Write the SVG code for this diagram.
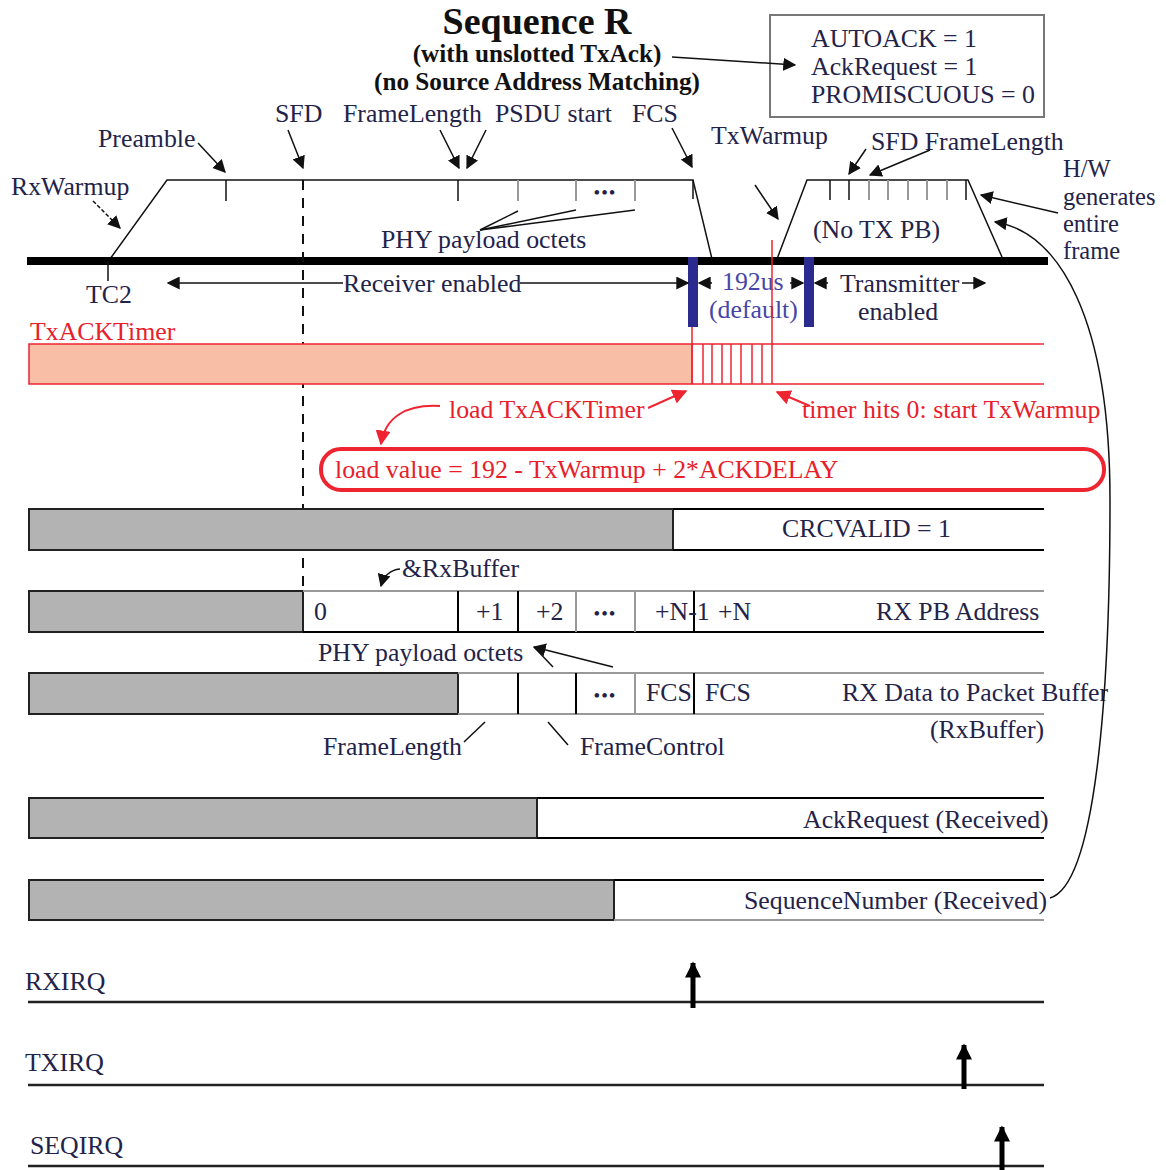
<svg xmlns="http://www.w3.org/2000/svg" width="1166" height="1170" viewBox="0 0 1166 1170">
<defs>
<style>
text{font-family:"Liberation Serif","Times New Roman",serif;font-size:25.8px;fill:#23234a}
.b{font-weight:bold;fill:#111;font-size:25.2px}
.t{font-size:38px}
.d{font-size:19px;letter-spacing:1px}
.hw{font-size:24.5px}
.r{fill:#e8202a}
.bl{fill:#4646a8}
.ln{stroke:#111;stroke-width:1.5;fill:none}
.gl{stroke:#999;stroke-width:2;fill:none}
.th{stroke:#000;stroke-width:2;fill:none}
.red{stroke:#ee2530;stroke-width:1.5;fill:none}
.gray{fill:#b3b3b3;stroke:#222;stroke-width:2}
</style>
<marker id="ah" viewBox="0 0 10 10" refX="9" refY="5" markerWidth="13" markerHeight="13" markerUnits="userSpaceOnUse" orient="auto"><path d="M0,0L10,5L0,10z" fill="#111"/></marker>
<marker id="rh" viewBox="0 0 10 10" refX="9" refY="5" markerWidth="15" markerHeight="15" markerUnits="userSpaceOnUse" orient="auto"><path d="M0,0L10,5L0,10z" fill="#ee2530"/></marker>
<marker id="big" viewBox="0 0 10 10" refX="9" refY="5" markerWidth="22" markerHeight="16" markerUnits="userSpaceOnUse" orient="auto"><path d="M0,0L10,5L0,10z" fill="#000"/></marker>
</defs>
<rect width="1166" height="1170" fill="#fff"/>

<g id="title">
<text x="537" y="34" class="b t" text-anchor="middle">Sequence R</text>
<text x="537" y="62" class="b" text-anchor="middle">(with unslotted TxAck)</text>
<text x="537" y="90" class="b" text-anchor="middle">(no Source Address Matching)</text>
</g>

<g id="config-box">
<rect x="770" y="15" width="274" height="102" fill="#fff" stroke="#777" stroke-width="2"/>
<text x="811" y="47">AUTOACK = 1</text>
<text x="811" y="75">AckRequest = 1</text>
<text x="811" y="103">PROMISCUOUS = 0</text>
</g>

<g id="rx-frame">
<polyline class="ln" points="110,259 167,180 693,180 712,259"/>
<line class="ln" x1="226" y1="180" x2="226" y2="201"/>
<line class="ln" x1="458" y1="180" x2="458" y2="201"/>
<line class="gl" x1="518" y1="180" x2="518" y2="201"/>
<line class="gl" x1="576" y1="180" x2="576" y2="201"/>
<line class="gl" x1="635" y1="180" x2="635" y2="201"/>
<line class="ln" x1="693" y1="180" x2="693" y2="199"/>
<text x="605" y="199" class="d" text-anchor="middle">•••</text>
<text x="381" y="248">PHY payload octets</text>
<text x="98" y="147">Preamble</text>
<text x="11" y="195">RxWarmup</text>
<text x="275" y="122">SFD</text>
<text x="343" y="122">FrameLength</text>
<text x="495" y="122">PSDU start</text>
<text x="632" y="122">FCS</text>
</g>

<g id="tx-frame">
<polyline class="ln" points="777,259 807,180 968,180 1002,257"/>
<line class="ln" x1="830" y1="180" x2="830" y2="200"/>
<line class="ln" x1="849" y1="180" x2="849" y2="200"/>
<line class="gl" x1="869" y1="180" x2="869" y2="200"/>
<line class="gl" x1="888" y1="180" x2="888" y2="200"/>
<line class="gl" x1="908" y1="180" x2="908" y2="200"/>
<line class="gl" x1="927" y1="180" x2="927" y2="200"/>
<line class="gl" x1="947" y1="180" x2="947" y2="200"/>
<line class="ln" x1="966" y1="180" x2="966" y2="200"/>
<text x="813" y="238">(No TX PB)</text>
<text x="711" y="144">TxWarmup</text>
<text x="871" y="150">SFD FrameLength</text>
<text x="1063" y="177" class="hw">H/W</text>
<text x="1063" y="205" class="hw">generates</text>
<text x="1063" y="232" class="hw">entire</text>
<text x="1063" y="259" class="hw">frame</text>
</g>

<g id="timeline">
<line x1="27" y1="261" x2="1048" y2="261" stroke="#000" stroke-width="8"/>
<line class="ln" x1="108" y1="261" x2="108" y2="281"/>
<text x="86" y="303">TC2</text>
<line x1="303" y1="180" x2="303" y2="592" stroke="#111" stroke-width="2" stroke-dasharray="10,8"/>
<text x="343" y="292">Receiver enabled</text>
<text x="840" y="292">Transmitter</text>
<text x="858" y="320">enabled</text>
<text x="722" y="290" class="bl">192us</text>
<text x="709" y="318" class="bl">(default)</text>
<rect x="688" y="257" width="10" height="70" fill="#2b2b8f"/>
<rect x="804" y="257" width="10" height="70" fill="#2b2b8f"/>
</g>

<g id="txacktimer">
<text x="30" y="340" class="r">TxACKTimer</text>
<rect x="29" y="344" width="663" height="40" fill="#f9bfa6" stroke="#ee2530" stroke-width="1.5"/>
<line class="red" x1="692" y1="344" x2="1044" y2="344"/>
<line class="red" x1="692" y1="384" x2="1044" y2="384"/>
<line class="red" x1="692" y1="327" x2="692" y2="384"/>
<line class="red" x1="703" y1="344" x2="703" y2="384"/>
<line class="red" x1="712" y1="344" x2="712" y2="384"/>
<line class="red" x1="722" y1="344" x2="722" y2="384"/>
<line class="red" x1="731" y1="344" x2="731" y2="384"/>
<line class="red" x1="741" y1="344" x2="741" y2="384"/>
<line class="red" x1="752" y1="344" x2="752" y2="384"/>
<line class="red" x1="762" y1="344" x2="762" y2="384"/>
<line class="red" x1="772" y1="240" x2="772" y2="384"/>
<text x="449" y="418" class="r">load TxACKTimer</text>
<text x="802" y="418" class="r">timer hits 0: start TxWarmup</text>
<rect x="321" y="449" width="783" height="41" rx="20" fill="none" stroke="#ee2530" stroke-width="4"/>
<text x="335" y="478" class="r">load value = 192 - TxWarmup + 2*ACKDELAY</text>
</g>

<g id="crcvalid">
<rect x="29" y="509" width="644" height="41" class="gray"/>
<line class="th" x1="673" y1="509" x2="1044" y2="509"/>
<line class="th" x1="673" y1="550" x2="1044" y2="550"/>
<text x="782" y="537">CRCVALID = 1</text>
</g>

<g id="rx-pb-address">
<rect x="29" y="591" width="274" height="41" class="gray"/>
<line class="gl" x1="303" y1="591" x2="1044" y2="591"/>
<line class="th" x1="303" y1="632" x2="1044" y2="632"/>
<line class="th" x1="458" y1="591" x2="458" y2="632"/>
<line class="th" x1="518" y1="591" x2="518" y2="632"/>
<line class="gl" x1="576" y1="591" x2="576" y2="632"/>
<line class="gl" x1="635" y1="591" x2="635" y2="632"/>
<line class="th" x1="694" y1="591" x2="694" y2="632"/>
<text x="314" y="620">0</text>
<text x="476" y="620">+1</text>
<text x="536" y="620">+2</text>
<text x="605" y="620" class="d" text-anchor="middle">•••</text>
<text x="655" y="620">+N-1</text>
<text x="718" y="620">+N</text>
<text x="876" y="620">RX PB Address</text>
<text x="402" y="577">&amp;RxBuffer</text>
<text x="318" y="661">PHY payload octets</text>
</g>

<g id="rx-data">
<rect x="29" y="673" width="429" height="41" class="gray"/>
<line class="gl" x1="458" y1="673" x2="1044" y2="673"/>
<line class="gl" x1="458" y1="714" x2="1044" y2="714"/>
<line class="th" x1="518" y1="673" x2="518" y2="714"/>
<line class="th" x1="576" y1="673" x2="576" y2="714"/>
<line class="gl" x1="635" y1="673" x2="635" y2="714"/>
<line class="th" x1="694" y1="673" x2="694" y2="714"/>
<text x="605" y="702" class="d" text-anchor="middle">•••</text>
<text x="646" y="701">FCS</text>
<text x="705" y="701">FCS</text>
<text x="842" y="701">RX Data to Packet Buffer</text>
<text x="930" y="738">(RxBuffer)</text>
<text x="323" y="755">FrameLength</text>
<text x="580" y="755">FrameControl</text>
</g>

<g id="ackrequest">
<rect x="29" y="798" width="508" height="40" class="gray"/>
<line class="th" x1="537" y1="798" x2="1044" y2="798"/>
<line class="th" x1="537" y1="838" x2="1044" y2="838"/>
<text x="803" y="828">AckRequest (Received)</text>
</g>

<g id="seqnum">
<rect x="29" y="880" width="585" height="40" class="gray"/>
<line class="th" x1="614" y1="880" x2="1044" y2="880"/>
<line class="gl" x1="614" y1="920" x2="1044" y2="920"/>
<text x="744" y="909">SequenceNumber (Received)</text>
</g>

<g id="irqs">
<text x="25" y="990">RXIRQ</text>
<line x1="28" y1="1002" x2="1044" y2="1002" stroke="#222" stroke-width="2.5"/>
<text x="25" y="1071">TXIRQ</text>
<line x1="28" y1="1085" x2="1044" y2="1085" stroke="#222" stroke-width="2.5"/>
<text x="30" y="1154">SEQIRQ</text>
<line x1="28" y1="1166" x2="1044" y2="1166" stroke="#222" stroke-width="2.5"/>
</g>

<g id="connectors">
<line class="ln" x1="672" y1="57" x2="795" y2="65" marker-end="url(#ah)"/>
<line class="ln" x1="198" y1="143" x2="225" y2="172" marker-end="url(#ah)"/>
<line class="ln" x1="93" y1="201" x2="120" y2="228" stroke-dasharray="4,2" marker-end="url(#ah)"/>
<line class="ln" x1="288" y1="130" x2="303" y2="168" marker-end="url(#ah)"/>
<line class="ln" x1="440" y1="130" x2="459" y2="168" marker-end="url(#ah)"/>
<line class="ln" x1="486" y1="130" x2="467" y2="168" marker-end="url(#ah)"/>
<line class="ln" x1="672" y1="128" x2="692" y2="167" marker-end="url(#ah)"/>
<line class="ln" x1="480" y1="230" x2="518" y2="211"/>
<line class="ln" x1="480" y1="230" x2="576" y2="210"/>
<line class="ln" x1="480" y1="230" x2="635" y2="210"/>
<line class="ln" x1="755" y1="185" x2="778" y2="219" marker-end="url(#ah)"/>
<line class="ln" x1="866" y1="149" x2="849" y2="174" marker-end="url(#ah)"/>
<line class="ln" x1="930" y1="150" x2="870" y2="175" marker-end="url(#ah)"/>
<line class="ln" x1="1058" y1="213" x2="981" y2="195" marker-end="url(#ah)"/>
<path class="ln" d="M1050,898 C1095,885 1110,700 1110,500 C1110,320 1060,232 995,222" marker-end="url(#ah)"/>
<line class="ln" x1="343" y1="283" x2="168" y2="283" marker-end="url(#ah)"/>
<line class="ln" x1="520" y1="283" x2="688" y2="283" marker-end="url(#ah)"/>
<line class="ln" x1="712" y1="283" x2="699" y2="283" marker-end="url(#ah)"/>
<line class="ln" x1="790" y1="283" x2="803" y2="283" marker-end="url(#ah)"/>
<line class="ln" x1="828" y1="283" x2="815" y2="283" marker-end="url(#ah)"/>
<line class="ln" x1="962" y1="283" x2="985" y2="283" marker-end="url(#ah)"/>
<line stroke="#ee2530" stroke-width="2" x1="648" y1="408" x2="686" y2="391" marker-end="url(#rh)"/>
<path stroke="#ee2530" stroke-width="2" fill="none" d="M440,406 C405,404 385,418 381,444" marker-end="url(#rh)"/>
<line stroke="#ee2530" stroke-width="2" x1="810" y1="406" x2="777" y2="392" marker-end="url(#rh)"/>
<path class="ln" d="M400,569 C390,570 384,575 381,586" marker-end="url(#ah)"/>
<line class="ln" x1="613" y1="667" x2="534" y2="647" marker-end="url(#ah)"/>
<line class="ln" x1="553" y1="667" x2="534" y2="647"/>
<line class="ln" x1="464" y1="742" x2="485" y2="722"/>
<line class="ln" x1="568" y1="745" x2="548" y2="722"/>
<line x1="693" y1="1008" x2="693" y2="963" stroke="#000" stroke-width="5" marker-end="url(#big)"/>
<line x1="964" y1="1089" x2="964" y2="1045" stroke="#000" stroke-width="5" marker-end="url(#big)"/>
<line x1="1002" y1="1170" x2="1002" y2="1127" stroke="#000" stroke-width="5" marker-end="url(#big)"/>
</g>
</svg>
